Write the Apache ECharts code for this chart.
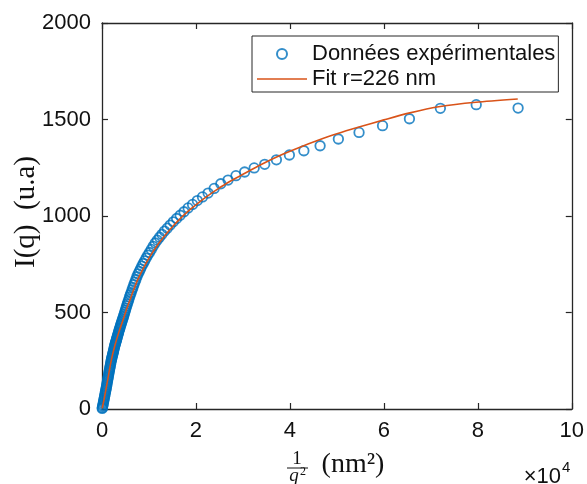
<!DOCTYPE html>
<html>
<head>
<meta charset="utf-8">
<script src="https://cdn.jsdelivr.net/npm/echarts@6/dist/echarts.min.js"></script>
<style>
html,body{margin:0;padding:0;background:#fff;}
#chart{width:587px;height:484px;}
</style>
</head>
<body>
<div id="chart"></div>
<script>
// Experimental data: x = 1/q^2 (nm^2), I(q) (u.a)
const expX = [88577,79663,72030,65444,59721,54718,50317,46427,42972,39888,
  37125,34639,32395,30362,28514,26831,25292,23881,22586,21393,
  20292,19274,18331,17455,16641,15882,15174,14512,13893,13313,
  12768,12256,11774,11320,10892,10487,10105,9743,9400,9075,
  8767,8474,8196,7931,7678,7438,7209,6990,6781,6581,
  6390,6207,6032,5864,5703,5548,5400,5258,5121,4989,
  4863,4741,4624,4511,4402,4297,4196,4098,4004,3913,
  3825,3739,3657,3578,3500,3426,3354,3284,3216,3150,3086,
  3020,2960,2900,2840,2780,2720,2660,2600,2540,2480,
  2420,2360,2300,2240,2180,2120,2060,2000,1940,1880,
  1820,1760,1700,1640,1580,1520,1460,1400,1340,1280,
  1220,1160,1100,1040,980,920,860,800,740,680,
  620,560,500,440,380,320,260,200,140,80,40];
const expI = [1559,1577,1558,1504,1468,1433,1399,1364,1338,1316,
  1291,1268,1249,1228,1209,1186,1167,1143,1119,1099,
  1080,1060,1042,1022,1004,987,970,953,937,922,
  905,890,875,860,843,827,811,797,782,767,
  754,740,726,713,700,686,671,657,644,630,
  617,603,592,580,567,556,545,534,523,512,
  502,492,483,474,466,458,451,443,436,429,
  421,415,409,401,395,389,382,377,371,365,360,
  354,349,344,339,334,328,322,316,309,303,
  297,291,285,279,273,267,261,255,248,240,
  232,224,216,208,201,193,185,176,168,160,
  152,144,136,127,119,112,104,96,89,81,
  73,66,58,51,43,36,29,21,14,7,3];

// Fit curve
const fitX = [50,420,1000,1500,1970,2750,3750,4600,5300,6050,
  6700,7600,8600,9600,10600,11900,13300,15000,16800,18600,
  20400,22500,24600,27000,30000,34000,37750,42000,46000,50000,
  54700,60000,65300,72000,79600,88500];
const fitI = [3,48,122,190,252,330,410,470,522,572,
  615,670,720,765,805,852,896,944,990,1030,
  1066,1104,1139,1176,1216,1268,1312,1355,1392,1426,
  1461,1498,1533,1567,1589,1606];

const seriesNames = ['Données expérimentales', 'Fit r=226 nm'];
const xTickLabels = ['0','2','4','6','8','10'];
const yTickLabels = ['0','500','1000','1500','2000'];

const expData = expX.map((x, i) => [x, expI[i]]);
const fitData = fitX.map((x, i) => [x, fitI[i]]);

const axisColor = '#262626';
const sans = "'Liberation Sans', Arial, sans-serif";
const serif = "'Liberation Serif', 'Times New Roman', serif";

const chart = echarts.init(document.getElementById('chart'), null, {renderer: 'canvas'});

function tick() { return {show: true, inside: true, length: 6, lineStyle: {color: axisColor, width: 1.2}}; }
function axLine() { return {show: true, onZero: false, lineStyle: {color: axisColor, width: 1.3}}; }

chart.setOption({
  animation: false,
  backgroundColor: '#fff',
  grid: {left: 102, right: 14, top: 23, bottom: 75, containLabel: false},
  xAxis: [{
    type: 'value', min: 0, max: 100000, interval: 20000, position: 'bottom',
    axisLine: axLine(), axisTick: tick(),
    axisLabel: {
      fontSize: 22, fontFamily: sans, color: '#111', margin: 11,
      formatter: (v) => xTickLabels[Math.round(v / 20000)]
    },
    splitLine: {show: false}
  }, {
    type: 'value', min: 0, max: 100000, interval: 20000, position: 'top',
    axisLine: axLine(), axisTick: tick(), axisLabel: {show: false}, splitLine: {show: false}
  }],
  yAxis: [{
    type: 'value', min: 0, max: 2000, interval: 500, position: 'left',
    axisLine: axLine(), axisTick: tick(),
    axisLabel: {
      fontSize: 22, fontFamily: sans, color: '#111', margin: 11,
      formatter: (v) => yTickLabels[Math.round(v / 500)]
    },
    splitLine: {show: false}
  }, {
    type: 'value', min: 0, max: 2000, interval: 500, position: 'right',
    axisLine: axLine(), axisTick: tick(), axisLabel: {show: false}, splitLine: {show: false}
  }],
  legend: {
    orient: 'vertical', left: 252, top: 36,
    padding: [7, 3, 2, 5], itemGap: 3, itemWidth: 50, itemHeight: 10,
    borderColor: axisColor, borderWidth: 1, backgroundColor: '#fff',
    symbolKeepAspect: true,
    textStyle: {fontSize: 22, fontFamily: sans, color: '#111', lineHeight: 22},
    data: [
      {name: seriesNames[0]},
      {name: seriesNames[1], icon: 'path://M0,0 L50,0 L50,1.6 L0,1.6 Z'}
    ]
  },
  series: [{
    name: seriesNames[0], type: 'scatter', data: expData,
    symbol: 'circle', symbolSize: 9.5,
    itemStyle: {color: 'rgba(0,0,0,0)', borderColor: '#0072BD', borderWidth: 1.8},
    z: 2
  }, {
    name: seriesNames[1], type: 'line', data: fitData,
    symbol: 'none', smooth: 0.25,
    lineStyle: {color: '#D95319', width: 1.6},
    itemStyle: {color: '#D95319'},
    z: 3
  }],
  graphic: [
    {type: 'text', x: 26, y: 212, rotation: Math.PI / 2,
      style: {text: 'I(q)\u2002(u.a)', fontSize: 29, fontFamily: serif, fill: '#111', align: 'center', verticalAlign: 'middle'}},
    {type: 'text', x: 297, y: 459,
      style: {text: '1', fontSize: 19, fontFamily: serif, fill: '#111', align: 'center', verticalAlign: 'middle'}},
    {type: 'line', shape: {x1: 287, y1: 468, x2: 308, y2: 468}, style: {stroke: '#111', lineWidth: 1}},
    {type: 'text', x: 294, y: 476,
      style: {text: 'q', fontSize: 19, fontStyle: 'italic', fontFamily: serif, fill: '#111', align: 'center', verticalAlign: 'middle'}},
    {type: 'text', x: 303, y: 472,
      style: {text: '2', fontSize: 12, fontFamily: serif, fill: '#111', align: 'center', verticalAlign: 'middle'}},
    {type: 'text', x: 353, y: 465,
      style: {text: '(nm²)', fontSize: 28, fontFamily: serif, fill: '#111', align: 'center', verticalAlign: 'middle'}},
    {type: 'text', x: 561, y: 477,
      style: {text: '×10', fontSize: 22, fontFamily: sans, fill: '#111', align: 'right', verticalAlign: 'middle'}},
    {type: 'text', x: 562, y: 468,
      style: {text: '4', fontSize: 15, fontFamily: sans, fill: '#111', align: 'left', verticalAlign: 'middle'}}
  ]
});
</script>
</body>
</html>
